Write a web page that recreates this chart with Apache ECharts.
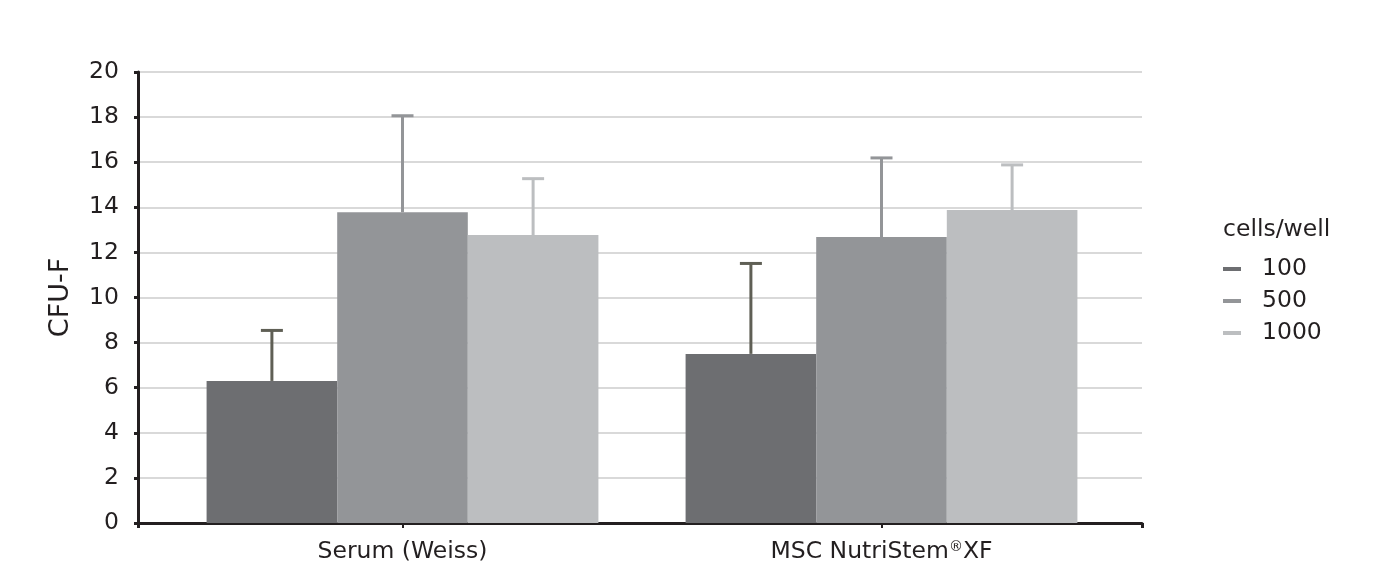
<!DOCTYPE html>
<html>
<head>
<meta charset="utf-8">
<script src="https://cdn.jsdelivr.net/npm/echarts@6/dist/echarts.min.js"></script>
<style>
html,body{margin:0;padding:0;background:#fff;}
#chart{width:1385px;height:567px;}
</style>
</head>
<body>
<div id="chart"></div>
<script>
const categories = ['Serum (Weiss)', 'MSC NutriStem\u00AEXF'];
const seriesNames = ['100', '500', '1000'];
const means100 = [6.3, 7.5];
const means500 = [13.78, 12.68];
const means1000 = [12.77, 13.88];
const err100 = [2.24, 4.01];
const err500 = [4.28, 3.51];
const err1000 = [2.5, 2.0];
const yTicks = { min: 0, max: 20, interval: 2 };
const colors = ['#6d6e71', '#939598', '#bcbec0'];
const errColors = ['#5f5f55', '#939598', '#bcbec0'];

const means = [means100, means500, means1000];
const errs = [err100, err500, err1000];
const FONT = 'DejaVu Sans';
const TXT = '#231f20';
const GAP = 0.182;
const FS = 23.5;

const chart = echarts.init(document.getElementById('chart'), null, { renderer: 'canvas' });

const barSeries = seriesNames.map((n, i) => ({
  name: n,
  type: 'bar',
  xAxisIndex: 0,
  yAxisIndex: 0,
  data: means[i],
  barGap: '0%',
  barCategoryGap: (GAP * 100) + '%',
  itemStyle: { color: colors[i] },
  z: 2
}));

const errSeries = seriesNames.map((n, i) => ({
  name: n + '_err',
  type: 'custom',
  xAxisIndex: 0,
  yAxisIndex: 0,
  z: 3,
  data: categories.map((c, k) => [k, means[i][k], means[i][k] + errs[i][k]]),
  renderItem: function (params, api) {
    const k = api.value(0);
    const base = api.coord([k, api.value(1)]);
    const top = api.coord([k, api.value(2)]);
    const catW = api.size([1, 0])[0];
    const bw = catW * (1 - GAP) / 3;
    const x = base[0] + (i - 1) * bw;
    const cap = 11;
    const style = { stroke: errColors[i], lineWidth: 3 };
    return {
      type: 'group',
      children: [
        { type: 'line', shape: { x1: x, y1: base[1], x2: x, y2: top[1] }, style: style },
        { type: 'line', shape: { x1: x - cap, y1: top[1], x2: x + cap, y2: top[1] }, style: style }
      ]
    };
  }
}));

chart.setOption({
  animation: false,
  textStyle: { fontFamily: FONT },
  title: {
    text: 'cells/well',
    left: 1218,
    top: 213,
    textStyle: { fontFamily: FONT, fontSize: FS, fontWeight: 'normal', color: TXT }
  },
  legend: {
    orient: 'vertical',
    left: 1218,
    top: 252,
    itemWidth: 18,
    itemHeight: 4,
    itemGap: 8,
    icon: 'rect',
    data: seriesNames,
    textStyle: { fontFamily: FONT, fontSize: FS, color: TXT, padding: [0, 0, 0, 16] }
  },
  grid: [
    { left: 163, right: 264, top: 72, bottom: 44, containLabel: false },
    { left: 138, right: 243, top: 72, bottom: 44, containLabel: false }
  ],
  xAxis: [
    {
      type: 'category',
      gridIndex: 0,
      data: categories,
      axisLine: { show: false },
      axisTick: { show: true, alignWithLabel: true, length: 5, lineStyle: { color: TXT, width: 2 } },
      axisLabel: {
        fontFamily: FONT, fontSize: FS, color: TXT, margin: 17,
        formatter: function (v) { return v.replace('\u00AE', '{sup|\u00AE}'); },
        rich: { sup: { fontFamily: FONT, fontSize: 14, color: TXT, padding: [0, 0, 9, 0] } }
      },
      splitLine: { show: false }
    },
    {
      type: 'category',
      gridIndex: 1,
      data: [''],
      boundaryGap: true,
      axisLine: { show: true, lineStyle: { color: TXT, width: 3 } },
      axisTick: { show: true, length: 5, lineStyle: { color: TXT, width: 3 } },
      axisLabel: { show: false },
      splitLine: { show: false }
    }
  ],
  yAxis: [
    {
      type: 'value',
      gridIndex: 0,
      min: yTicks.min, max: yTicks.max, interval: yTicks.interval,
      show: false,
      splitLine: { show: false }
    },
    {
      type: 'value',
      gridIndex: 1,
      min: yTicks.min, max: yTicks.max, interval: yTicks.interval,
      name: 'CFU-F',
      nameLocation: 'middle',
      nameGap: 64,
      nameTextStyle: { fontFamily: FONT, fontSize: 27, color: TXT },
      axisLine: { show: true, lineStyle: { color: TXT, width: 3 } },
      axisTick: { show: true, length: 4, lineStyle: { color: TXT, width: 3 } },
      axisLabel: { fontFamily: FONT, fontSize: FS, color: TXT, margin: 19 },
      splitLine: { show: true, lineStyle: { color: '#d9d9d9', width: 2 } }
    }
  ],
  series: barSeries.concat(errSeries)
});
</script>
</body>
</html>
